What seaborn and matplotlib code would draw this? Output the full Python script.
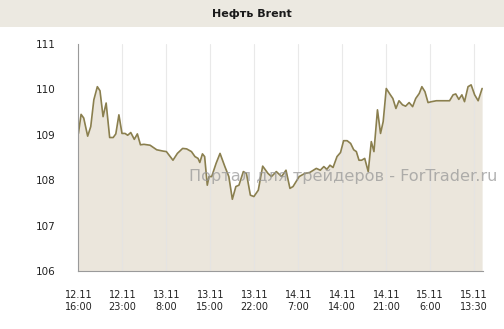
import matplotlib
matplotlib.use("Agg")
import matplotlib.pyplot as plt
import seaborn as sns
import pandas as pd

title = "Нефть Brent"
watermark = "Портал для трейдеров - ForTrader.ru"
tick_labels = ["12.11\n16:00", "12.11\n23:00", "13.11\n8:00", "13.11\n15:00", "13.11\n22:00",
               "14.11\n7:00", "14.11\n14:00", "14.11\n21:00", "15.11\n6:00", "15.11\n13:30"]
y_ticks = [106, 107, 108, 109, 110, 111]

# position along the time axis (in tick intervals) and price
t = [0.00, 0.06, 0.12, 0.21, 0.28, 0.35, 0.43, 0.49, 0.56, 0.63, 0.71, 0.79, 0.85, 0.92, 0.99,
     1.06, 1.12, 1.19, 1.27, 1.34, 1.41, 1.49, 1.63, 1.78, 1.93, 2.00, 2.15, 2.25, 2.37, 2.46,
     2.57, 2.65, 2.72, 2.76, 2.82, 2.87, 2.93, 2.97, 3.03, 3.13, 3.22, 3.33, 3.42, 3.50, 3.58,
     3.65, 3.75, 3.82, 3.91, 3.99, 4.09, 4.19, 4.31, 4.39, 4.50, 4.62, 4.72, 4.81, 4.88, 5.02,
     5.15, 5.26, 5.41, 5.50, 5.58, 5.65, 5.72, 5.79, 5.88, 5.96, 6.03, 6.11, 6.19, 6.26, 6.32,
     6.38, 6.44, 6.51, 6.59, 6.66, 6.72, 6.80, 6.87, 6.93, 7.00, 7.08, 7.15, 7.22, 7.29, 7.37,
     7.44, 7.52, 7.60, 7.67, 7.75, 7.81, 7.88, 7.95, 8.03, 8.14, 8.44, 8.52, 8.58, 8.65, 8.72,
     8.78, 8.86, 8.93, 9.01, 9.09, 9.18]
price = [109.03, 109.45, 109.37, 108.97, 109.18, 109.77, 110.06, 109.97, 109.40, 109.70, 108.94,
         108.94, 109.02, 109.44, 109.03, 109.03, 108.99, 109.05, 108.90, 109.02, 108.78, 108.79,
         108.77, 108.67, 108.64, 108.63, 108.44, 108.59, 108.70, 108.69, 108.63, 108.52, 108.48,
         108.39, 108.58, 108.52, 107.89, 108.08, 108.08, 108.37, 108.59, 108.30, 108.08, 107.58,
         107.86, 107.89, 108.19, 108.15, 107.67, 107.64, 107.78, 108.31, 108.15, 108.08, 108.19,
         108.08, 108.22, 107.82, 107.86, 108.08, 108.15, 108.17, 108.26, 108.22, 108.30, 108.24,
         108.33, 108.28, 108.52, 108.61, 108.87, 108.87, 108.81, 108.67, 108.63, 108.44, 108.44,
         108.48, 108.19, 108.85, 108.63, 109.55, 109.03, 109.29, 110.02, 109.90, 109.80, 109.58,
         109.75, 109.66, 109.63, 109.71, 109.62, 109.80, 109.91, 110.06, 109.95, 109.71, 109.73,
         109.75, 109.75, 109.88, 109.90, 109.78, 109.88, 109.73, 110.06, 110.10, 109.88, 109.75,
         110.02]

df = pd.DataFrame({"t": t, "price": price})

sns.set_style("white")
plt.rcParams["font.family"] = ["DejaVu Sans"]

fig = plt.figure(figsize=(5.04, 3.29), dpi=100)
fig.patch.set_facecolor("white")
# title band
fig.patches.append(plt.Rectangle((0, 1 - 27 / 329), 1, 27 / 329, transform=fig.transFigure,
                                 facecolor="#ece9e1", edgecolor="none", zorder=0))
fig.text(0.5, 1 - 14 / 329, title, ha="center", va="center", fontsize=8, fontweight="bold",
         color="#1a1a1a")

ax = fig.add_axes([78 / 504, 1 - 271 / 329, (483 - 78) / 504, (271 - 44) / 329])
ax.set_facecolor("white")

ax.fill_between(df["t"], df["price"], 106, color="#ebe6dc", zorder=1, linewidth=0)
for i in range(len(tick_labels)):
    ax.axvline(i, color="#e4e4e4", linewidth=0.8, zorder=2, alpha=0.8)
sns.lineplot(data=df, x="t", y="price", ax=ax, color="#8a7f4e", linewidth=1.2, zorder=3)

ax.set_xlim(-0.01, 9.2)
ax.set_ylim(106, 111)
ax.set_xticks(range(len(tick_labels)))
ax.set_xticklabels(tick_labels, fontsize=7, color="#222222", linespacing=1.25)
ax.set_yticks(y_ticks)
ax.set_yticklabels([str(v) for v in y_ticks], fontsize=7.5, color="#222222")
ax.set_xlabel("")
ax.set_ylabel("")

for side in ["top", "right"]:
    ax.spines[side].set_visible(False)
for side in ["left", "bottom"]:
    ax.spines[side].set_color("#9a9a9a")
    ax.spines[side].set_linewidth(0.8)
    ax.spines[side].set_zorder(4)
ax.tick_params(axis="both", which="both", direction="out", length=4, width=0.8, color="#9a9a9a")
ax.tick_params(axis="x", pad=11, length=3)
ax.tick_params(axis="y", pad=12, length=4)
ax.grid(False)

fig.text(343 / 504, 1 - 176 / 329, watermark, ha="center", va="center", fontsize=11.6,
         color="#999999", alpha=0.75, zorder=10)

fig.savefig("out.png", dpi=100, facecolor="white")
